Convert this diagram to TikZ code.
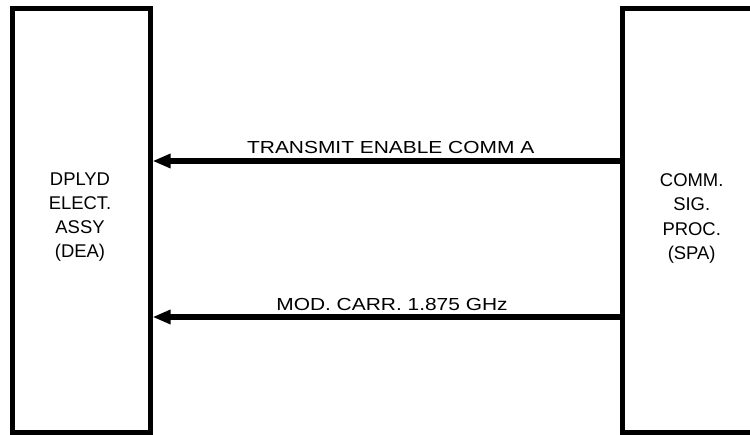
\documentclass[tikz,border=0pt]{standalone}
\usepackage{fontspec}
\setmainfont{Liberation Sans}
\newfontfamily\widefont[FakeStretch=1.2]{Liberation Sans}
\usetikzlibrary{arrows.meta}
\begin{document}
\begin{tikzpicture}[x=1bp,y=-1bp,
  unitbox/.style={draw, line width=5bp, minimum width=137.7bp, minimum height=423.5bp, inner sep=0pt},
  unittext/.style={align=center, inner sep=0pt, font=\fontsize{18.5}{24.3}\selectfont},
  sig/.style={line width=6bp, -{Triangle[length=18bp,width=13.5bp]}},
  siglabel/.style={anchor=base, inner sep=0pt, font=\widefont\fontsize{17.5}{20}\selectfont}]
\useasboundingbox (0,0) rectangle (750,435);
\clip (0,0) rectangle (750,435);
\node[unitbox] (dea) at (81.2,220.25) {};
\node[unitbox] (spa) at (691.7,220.25) {};
\node[unittext] (deat) at (80,217) {DPLYD\\ELECT.\\ASSY\\(DEA)};
\node[unittext] (spat) at (691.7,218.5) {COMM.\\SIG.\\PROC.\\(SPA)};
\draw[sig] (spa.west |- 0,161) -- (dea.east |- 0,161);
\draw[sig] (spa.west |- 0,317) -- (dea.east |- 0,317);
\node[siglabel] (l1) at (390.7,154) {TRANSMIT ENABLE COMM A};
\node[siglabel] (l2) at (392,310.5) {MOD. CARR. 1.875 GHz};
\end{tikzpicture}
\end{document}
